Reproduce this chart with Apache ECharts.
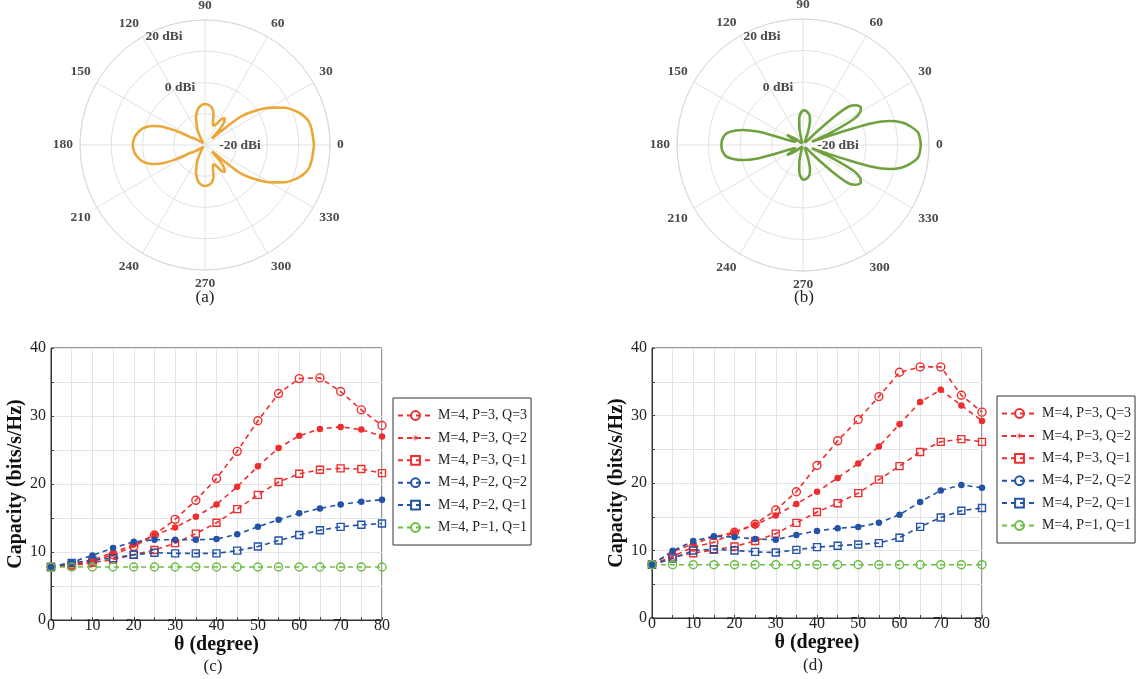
<!DOCTYPE html>
<html><head><meta charset="utf-8">
<script src="https://cdn.jsdelivr.net/npm/echarts@6/dist/echarts.min.js"></script>
<style>html,body{margin:0;padding:0;background:#fff}#chart{width:1142px;height:679px}</style>
</head><body><div id="chart"></div>
<script>
// ---------- Data: radiation patterns (angle in degrees, gain in dBi) ----------
const patternA_angle = [0,8,13,17,20.5,25,28.6,31.5,34.4,37,38.8,40,41.5,44,47,50,54,58,62,66,70,75,80,85,90,95,100,104,108,112,116,120,126,135,143,148,151,154,157.5,160,163.4,167,172,176,180,
  184,188,193,196.6,200,202.5,206,209,212,217,225,234,240,244,248,252,256,260,265,270,275,280,285,290,294,298,302,306,310,313,316,318.5,320,321.2,323,325.6,328.5,331.4,335,339.5,343,347,352,360];
const patternA_gain = [29.8,29.0,28.0,25.4,22.0,16.4,10.0,5.0,-1.4,-7.0,-12.2,-22.0,-32.0,-34.0,-26.0,-21.0,-18.6,-21.0,-25.0,-26.4,-25.2,-19.0,-15.6,-14.2,-13.8,-14.4,-16.0,-18.4,-21.4,-25.6,-29.0,-33.0,-37.0,-38.4,-36.0,-32.0,-30.0,-19.0,-8.6,-4.4,-0.4,2.4,4.8,5.8,6.2,
  5.8,4.8,2.4,-0.4,-4.4,-8.6,-19.0,-30.0,-32.0,-36.0,-38.4,-37.0,-33.0,-29.0,-25.6,-21.4,-18.4,-16.0,-14.4,-13.8,-14.2,-15.6,-19.0,-25.2,-26.4,-25.0,-21.0,-18.6,-21.0,-26.0,-34.0,-32.0,-22.0,-12.2,-7.0,-1.4,5.0,10.0,16.4,22.0,25.4,28.0,29.0,29.8];
const patternB_angle = [0,6,10,13,15.5,17.5,18.5,19.3,20.5,22,24,27,30,33,37,40,42,43.5,46,55,65,70,74,78,84,88,93,98,102,106,115,130,142,148,152,156,159,161,162.5,163.5,166,171,176,180,
  184,189,194,196.5,197.5,199,201,204,208,212,218,230,245,254,258,262,267,272,276,282,286,290,295,305,314,316.5,318,320,323,327,330,333,336,338,339.5,340.7,341.5,342.5,344.5,347,350,354,360];
const patternB_gain = [34.8,33.6,29.0,24.0,17.0,6.0,-10.0,-24.0,-34.0,-30.0,-20.0,-4.0,2.0,3.8,2.0,-2.0,-12.0,-26.0,-37.0,-38.0,-36.0,-30.0,-24.0,-20.4,-18.4,-18.0,-19.0,-23.0,-29.0,-36.0,-39.0,-38.0,-33.0,-28.0,-34.0,-35.0,-34.0,-31.0,-20.0,-10.0,-0.6,8.8,11.4,11.8,
  11.4,8.8,-0.6,-10.0,-20.0,-31.0,-34.0,-35.0,-34.0,-28.0,-33.0,-38.0,-39.0,-36.0,-29.0,-23.0,-19.0,-18.0,-18.4,-20.4,-24.0,-30.0,-36.0,-38.0,-37.0,-26.0,-12.0,-2.0,2.0,3.8,2.0,-4.0,-20.0,-30.0,-34.0,-24.0,-10.0,6.0,17.0,24.0,29.0,33.6,34.8];
const polarAngleTicks = [0,30,60,90,120,150,180,210,240,270,300,330];
const ringLabels = ['20 dBi','0 dBi','-20 dBi'];

// ---------- Data: capacity vs theta ----------
const theta = [0,5,10,15,20,25,30,35,40,45,50,55,60,65,70,75,80];
const seriesNames = ['M=4, P=3, Q=3','M=4, P=3, Q=2','M=4, P=3, Q=1','M=4, P=2, Q=2','M=4, P=2, Q=1','M=4, P=1, Q=1'];
const c_P3Q3 = [7.8,8.1,8.6,9.6,10.8,12.5,14.8,17.6,20.8,24.8,29.3,33.3,35.5,35.6,33.6,30.9,28.6];
const c_P3Q2 = [7.8,8.2,8.8,9.9,11.1,12.5,13.6,15.2,17.0,19.6,22.6,25.3,27.1,28.1,28.4,28.0,27.0];
const c_P3Q1 = [7.8,8.0,8.4,8.9,9.6,10.3,11.3,12.7,14.3,16.3,18.4,20.3,21.5,22.1,22.3,22.2,21.6];
const c_P2Q2 = [7.8,8.5,9.5,10.6,11.5,11.8,11.8,11.8,11.9,12.6,13.7,14.75,15.7,16.4,17.0,17.4,17.7];
const c_P2Q1 = [7.8,8.4,8.8,9.1,9.6,9.9,9.8,9.8,9.8,10.2,10.8,11.7,12.5,13.2,13.7,14.0,14.2];
const c_P1Q1 = [7.8,7.8,7.8,7.8,7.8,7.8,7.8,7.8,7.8,7.8,7.8,7.8,7.8,7.8,7.8,7.8,7.8];
const d_P3Q3 = [7.9,9.1,10.5,11.2,12.7,13.9,16.0,18.7,22.6,26.25,29.4,32.8,36.4,37.2,37.2,33.0,30.5];
const d_P3Q2 = [7.9,9.8,11.0,12.0,12.7,13.8,15.2,16.9,18.7,20.75,22.9,25.4,28.7,32.0,33.8,31.5,29.2];
const d_P3Q1 = [7.9,9.0,9.6,10.1,10.6,11.4,12.5,14.1,15.7,17.0,18.5,20.5,22.5,24.6,26.1,26.5,26.1];
const d_P2Q2 = [7.9,9.95,11.4,12.1,12.0,11.7,11.6,12.3,12.9,13.3,13.5,14.1,15.3,17.2,18.9,19.7,19.3];
const d_P2Q1 = [7.9,8.8,10.0,10.2,10.0,9.8,9.7,10.1,10.5,10.7,10.9,11.1,11.9,13.5,14.9,15.9,16.3];
const d_P1Q1 = [7.9,7.9,7.9,7.9,7.9,7.9,7.9,7.9,7.9,7.9,7.9,7.9,7.9,7.9,7.9,7.9,7.9];
const xLabelTicks = [0,10,20,30,40,50,60,70,80];
const yLabelTicks = [0,10,20,30,40];

// ---------- Styling ----------
const SERIF = "'Liberation Serif','Times New Roman',serif";
const RED = '#EE2E2E', BLUE = '#2253A6', GREEN = '#6CBD45';
const ORANGE = '#EBA73A', OLIVE = '#6FA23F';
const ASTERISK = 'path://M10,0L1.9,0.8L7.07,7.07L0.8,1.9L0,10L-0.8,1.9L-7.07,7.07L-1.9,0.8L-10,0L-1.9,-0.8L-7.07,-7.07L-0.8,-1.9L0,-10L0.8,-1.9L7.07,-7.07L1.9,-0.8Z';

const polarCenters = [[205,145],[803,145]];
const polarRadius = [125,126];

function angleAxis(i){
  return {polarIndex:i, type:'value', min:0, max:360, interval:30, startAngle:0, clockwise:false,
    axisLine:{lineStyle:{color:'#d9d9d9',width:1}}, axisTick:{show:false},
    splitLine:{lineStyle:{color:'#e2e2e2',width:1}},
    axisLabel:{margin:7, color:'#4a4a4a', fontWeight:'bold', fontSize:13.5, fontFamily:SERIF,
      formatter:v=> polarAngleTicks.indexOf(v)>=0 ? String(v) : ''}};
}
function radiusAxis(i){
  return {polarIndex:i, type:'value', min:-40, max:40, interval:20,
    axisLine:{show:false}, axisTick:{show:false}, axisLabel:{show:false},
    splitLine:{lineStyle:{color:'#e2e2e2',width:1}}};
}
function xAx(g, nameGap){
  return {gridIndex:g, type:'value', min:0, max:80, interval:5,
    axisLine:{lineStyle:{color:'#333',width:1}},
    axisTick:{inside:true,length:3,lineStyle:{color:'#444'}},
    splitLine:{lineStyle:{color:'#e4e4e4',width:1}},
    axisLabel:{margin:-2, color:'#222', fontSize:16, fontFamily:SERIF,
      formatter:v=> xLabelTicks.indexOf(v)>=0 ? String(v) : ''},
    name:'θ (degree)', nameLocation:'middle', nameGap:nameGap,
    nameTextStyle:{fontWeight:'bold', fontSize:20, color:'#111', fontFamily:SERIF}};
}
function yAx(g){
  return {gridIndex:g, type:'value', min:0, max:40, interval:5,
    axisLine:{lineStyle:{color:'#333',width:1}},
    axisTick:{inside:true,length:3,lineStyle:{color:'#444'}},
    splitLine:{lineStyle:{color:'#e4e4e4',width:1}},
    axisLabel:{margin:5, color:'#222', fontSize:16, fontFamily:SERIF,
      formatter:v=> yLabelTicks.indexOf(v)>=0 ? String(v) : ''},
    name:'Capacity (bits/s/Hz)', nameLocation:'middle', nameGap:21, nameRotate:90,
    nameTextStyle:{fontWeight:'bold', fontSize:20, color:'#111', fontFamily:SERIF}};
}

const styles = [
  {color:RED, symbol:'circle', size:8, hollow:true},
  {color:RED, symbol:'circle', size:6.5, hollow:false},
  {color:RED, symbol:'rect', size:7, hollow:true},
  {color:BLUE, symbol:'circle', size:6.5, hollow:false},
  {color:BLUE, symbol:'rect', size:7, hollow:true},
  {color:GREEN, symbol:'circle', size:8, hollow:true}
];
function lineSeries(name, values, g, st){
  return {name, type:'line', xAxisIndex:g, yAxisIndex:g,
    data: theta.map((t,i)=>[t, values[i]]),
    symbol: st.symbol, symbolSize: st.size, showSymbol:true,
    lineStyle:{color:st.color, width:1.6, type:[5,4]},
    itemStyle: st.hollow ? {color:'rgba(255,255,255,0)', borderColor:st.color, borderWidth:1.4}
                         : {color:st.color, borderWidth:0},
    emphasis:{disabled:true}, animation:false};
}
// legend-only series (legend markers differ from plot markers in the reference)
const legendOnly = [
  {name:seriesNames[1], type:'line', xAxisIndex:0, yAxisIndex:0, data:[], symbol:ASTERISK, symbolSize:9,
   lineStyle:{color:RED,width:1.6,type:[5,4]}, itemStyle:{color:RED}},
  {name:seriesNames[3], type:'line', xAxisIndex:0, yAxisIndex:0, data:[], symbol:'circle', symbolSize:8,
   lineStyle:{color:BLUE,width:1.6,type:[5,4]}, itemStyle:{color:'rgba(255,255,255,0)',borderColor:BLUE,borderWidth:1.4}}
];

const cData = [c_P3Q3,c_P3Q2,c_P3Q1,c_P2Q2,c_P2Q1,c_P1Q1];
const dData = [d_P3Q3,d_P3Q2,d_P3Q1,d_P2Q2,d_P2Q1,d_P1Q1];

const series = [].concat(
  legendOnly,
  [{type:'line', coordinateSystem:'polar', polarIndex:0, showSymbol:false, smooth:0.3,
    data: patternA_angle.map((a,i)=>[patternA_gain[i], a]),
    lineStyle:{color:ORANGE, width:2.6}, animation:false},
   {type:'line', coordinateSystem:'polar', polarIndex:1, showSymbol:false, smooth:0.3,
    data: patternB_angle.map((a,i)=>[patternB_gain[i], a]),
    lineStyle:{color:OLIVE, width:2.6}, animation:false}],
  cData.map((v,i)=>lineSeries(seriesNames[i], v, 0, styles[i])),
  dData.map((v,i)=>lineSeries(seriesNames[i], v, 1, styles[i]))
);

function legend(left, top){
  return {left, top, orient:'vertical', data:seriesNames, selectedMode:false,
    itemWidth:35, itemHeight:11, itemGap:5.4, padding:[9,4,9,4],
    borderColor:'#333', borderWidth:1, backgroundColor:'#fff',
    textStyle:{fontFamily:SERIF, fontSize:14, color:'#222', lineHeight:17}};
}

const graphic = [];
const ringOffsets = [[-41,-108],[-25,-57],[35,1]];
polarCenters.forEach(c=>{
  ringLabels.forEach((t,i)=>{
    graphic.push({type:'text', x:c[0]+ringOffsets[i][0], y:c[1]+ringOffsets[i][1], z:10,
      style:{text:t, fill:'#4a4a4a', font:"bold 13.5px "+SERIF, textAlign:'center', textVerticalAlign:'middle'}});
  });
});
[['(a)',205,298],['(b)',804,298],['(c)',213,667],['(d)',813,666]].forEach(s=>{
  graphic.push({type:'text', x:s[1], y:s[2],
    style:{text:s[0], fill:'#222', font:"17px "+SERIF, textAlign:'center', textVerticalAlign:'middle'}});
});

const option = {
  animation:false,
  backgroundColor:'#fff',
  polar: polarCenters.map((c,i)=>({center:c, radius:polarRadius[i]})),
  angleAxis:[angleAxis(0), angleAxis(1)],
  radiusAxis:[radiusAxis(0), radiusAxis(1)],
  grid:[
    {left:51, top:348, width:331, height:272, show:true, borderColor:'#333', borderWidth:1, backgroundColor:'rgba(0,0,0,0)'},
    {left:652, top:348, width:330, height:270, show:true, borderColor:'#333', borderWidth:1, backgroundColor:'rgba(0,0,0,0)'}
  ],
  xAxis:[xAx(0,12), xAx(1,14)],
  yAxis:[yAx(0), yAx(1)],
  legend:[legend(393,398), legend(997,396)],
  series,
  graphic
};
const chart = echarts.init(document.getElementById('chart'), null, {renderer:'canvas'});
chart.setOption(option);
</script>
</body></html>
